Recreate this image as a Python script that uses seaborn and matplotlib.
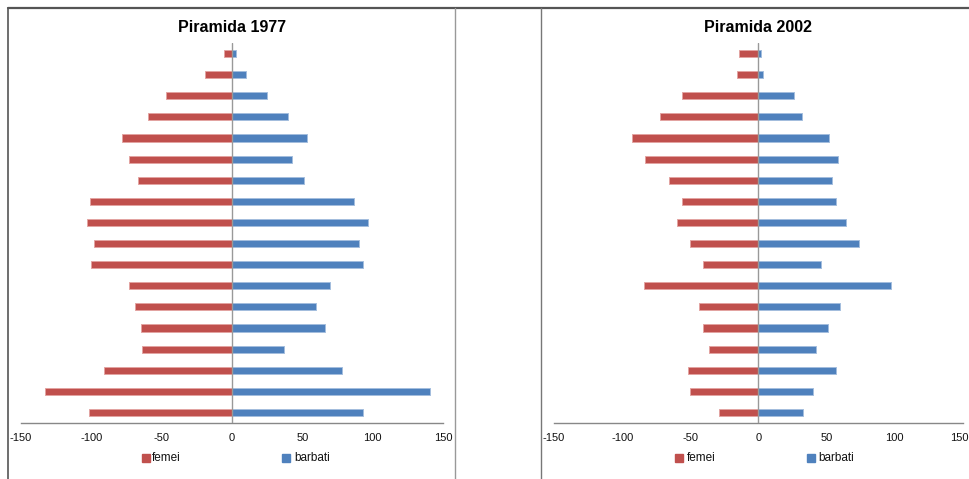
import matplotlib
matplotlib.use("Agg")
import matplotlib.pyplot as plt
import matplotlib.transforms as mtransforms
from matplotlib.lines import Line2D
import seaborn as sns
import pandas as pd

# age groups, top (oldest) to bottom (youngest)
age_groups = ["85+", "80-84", "75-79", "70-74", "65-69", "60-64", "55-59", "50-54", "45-49",
              "40-44", "35-39", "30-34", "25-29", "20-24", "15-19", "10-14", "5-9", "0-4"]

femei_1977 = [6, 19, 47, 60, 78, 73, 67, 101, 103, 98, 100, 73, 69, 65, 64, 91, 133, 102]
barbati_1977 = [3, 10, 25, 40, 53, 43, 51, 87, 97, 90, 93, 70, 60, 66, 37, 78, 141, 93]

femei_2002 = [14, 16, 56, 72, 93, 83, 66, 56, 60, 50, 41, 84, 44, 41, 36, 52, 50, 29]
barbati_2002 = [2, 3, 26, 32, 52, 58, 54, 57, 64, 74, 46, 97, 60, 51, 42, 57, 40, 33]

titles = ["Piramida 1977", "Piramida 2002"]
x_ticks = [-150, -100, -50, 0, 50, 100, 150]
legend_labels = ["femei", "barbati"]

RED = "#C0504D"
BLUE = "#4F81BD"

sns.set_style("white")
plt.rcParams["font.family"] = ["Liberation Sans", "DejaVu Sans"]

fig = plt.figure(figsize=(9.70, 4.79), dpi=100)
W, H = 970.0, 479.0

panels = [
    dict(fem=femei_1977, bar=barbati_1977, title=titles[0], x0=21, x1=443),
    dict(fem=femei_2002, bar=barbati_2002, title=titles[1], x0=554, x1=963),
]
y_top, y_bot = 43, 423

for i, p in enumerate(panels):
    ax = fig.add_axes([p["x0"] / W, 1 - y_bot / H, (p["x1"] - p["x0"]) / W, (y_bot - y_top) / H])
    df_f = pd.DataFrame({"age": age_groups, "val": [-v for v in p["fem"]]})
    df_b = pd.DataFrame({"age": age_groups, "val": p["bar"]})
    sns.barplot(data=df_f, x="val", y="age", order=age_groups, orient="h", color=RED,
                saturation=1, width=0.34, edgecolor="#E3A3A1", linewidth=0.7, ax=ax)
    sns.barplot(data=df_b, x="val", y="age", order=age_groups, orient="h", color=BLUE,
                saturation=1, width=0.34, edgecolor="#A3BDDE", linewidth=0.7, ax=ax)
    ax.set_xlim(-150, 150)
    ax.set_ylim(len(age_groups) - 0.5, -0.5)
    ax.axvline(0, color="#999999", lw=1.0, zorder=5)
    ax.set_xticks(x_ticks)
    ax.set_xticklabels([str(t) for t in x_ticks])
    ax.set_yticks([])
    ax.set_xlabel("")
    ax.set_ylabel("")
    for s in ["top", "right", "left"]:
        ax.spines[s].set_visible(False)
    ax.spines["bottom"].set_color("#888888")
    ax.spines["bottom"].set_linewidth(1.0)
    ax.tick_params(axis="x", direction="out", length=4, color="#888888", pad=3,
                   labelsize=8, labelcolor="#111111")
    if i == 1:
        last = ax.get_xticklabels()[-1]
        last.set_transform(last.get_transform() +
                           mtransforms.ScaledTranslation(-4 / 100, 0, fig.dpi_scale_trans))
    cx = (p["x0"] + p["x1"]) / 2
    fig.text(cx / W, 1 - 28 / H, p["title"], ha="center", va="center",
             fontsize=11.5, fontweight="bold", color="black")

# legends
leg_pos = [(143, 152, 283, 294), (676, 687, 808, 818)]
for (rx, tx, bx, bt) in leg_pos:
    yy = 1 - 458 / H
    fig.add_artist(Line2D([(rx + 3) / W], [yy], marker="s", markersize=5.2, color=RED,
                          linestyle="none"))
    fig.text(tx / W, yy, legend_labels[0], ha="left", va="center", fontsize=8.5,
             color="#111111")
    fig.add_artist(Line2D([(bx + 3) / W], [yy], marker="s", markersize=5.2, color=BLUE,
                          linestyle="none"))
    fig.text(bt / W, yy, legend_labels[1], ha="left", va="center", fontsize=8.5,
             color="#111111")

# panel borders
def fline(x0, y0, x1, y1, color, lw):
    fig.add_artist(Line2D([x0 / W, x1 / W], [1 - y0 / H, 1 - y1 / H], color=color, lw=lw))

fline(8, 8, 970, 8, "#555555", 1.6)
fline(8, 8, 8, 479, "#555555", 1.2)
fline(455, 8, 455, 479, "#999999", 1.0)
fline(541, 8, 541, 479, "#777777", 1.0)

fig.savefig("out.png", dpi=100)
